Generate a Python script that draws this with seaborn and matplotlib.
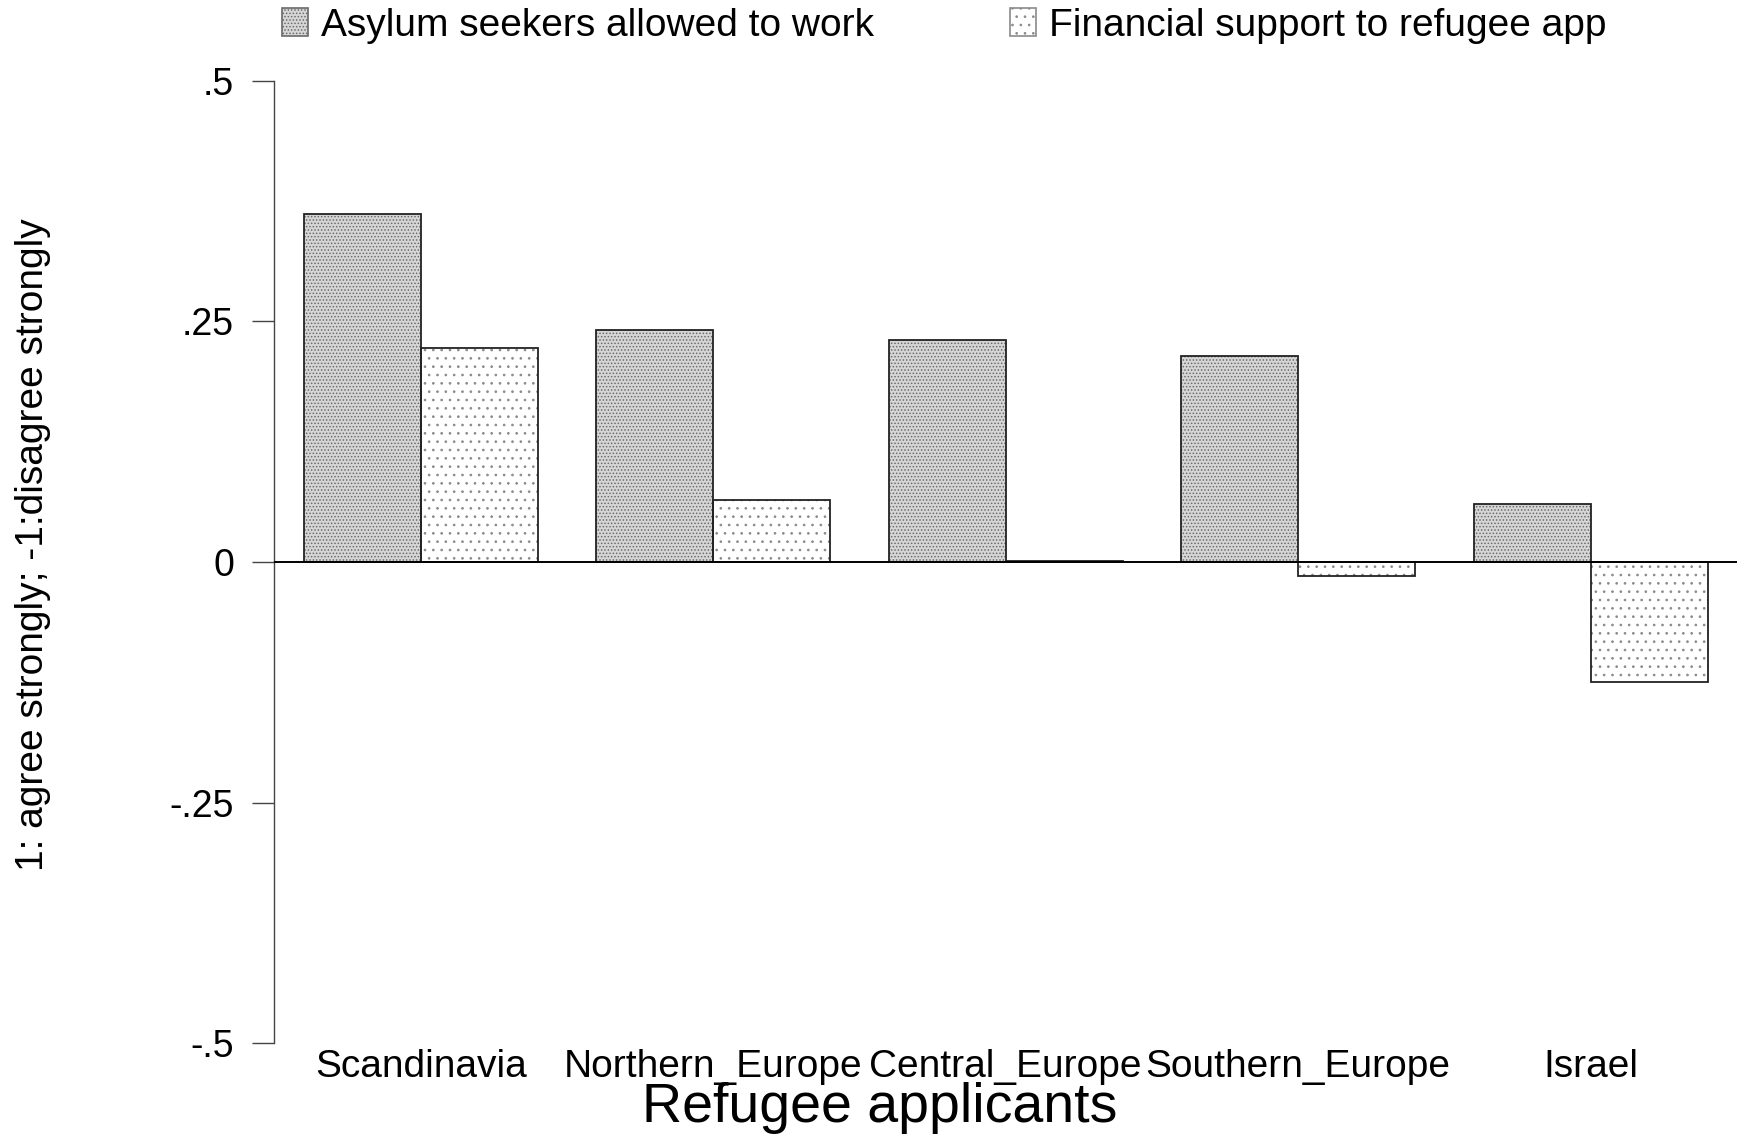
import matplotlib
matplotlib.use("Agg")
import matplotlib.pyplot as plt
from matplotlib.patches import Patch, Rectangle
import pandas as pd
import seaborn as sns

# --- Data ---
regions = ["Scandinavia", "Northern_Europe", "Central_Europe", "Southern_Europe", "Israel"]
series = ["Asylum seekers allowed to work", "Financial support to refugee app"]
asylum_work = [0.362, 0.241, 0.231, 0.214, 0.060]
financial_support = [0.222, 0.064, 0.001, -0.015, -0.125]
ytick_vals = [-0.5, -0.25, 0, 0.25, 0.5]
ytick_labels = ["-.5", "-.25", "0", ".25", ".5"]

df = pd.DataFrame({
    "region": regions * 2,
    "series": [series[0]] * len(regions) + [series[1]] * len(regions),
    "value": asylum_work + financial_support,
})

sns.set_theme(style="white")
plt.rcParams["font.family"] = ["Liberation Sans", "DejaVu Sans"]
plt.rcParams["text.color"] = "black"
plt.rcParams["axes.labelcolor"] = "black"
plt.rcParams["xtick.color"] = "black"
plt.rcParams["ytick.color"] = "black"
plt.rcParams["hatch.linewidth"] = 0.7

fig = plt.figure(figsize=(17.37, 11.40), dpi=100)
ax = fig.add_axes([0.158, 0.085, 0.842, 0.844])

sns.barplot(data=df, x="region", y="value", hue="series", order=regions,
            hue_order=series, width=0.8, palette=["white", "white"],
            legend=False, ax=ax)

# Stata-like dotted fills (hatch colour follows edgecolor, outline drawn on top)
styles = [dict(face="#d6d6d6", hatch=".....", dots="#6a6a6a"),
          dict(face="white", hatch="..", dots="#8a8a8a")]
outline = "#222222"
for cont, st in zip(ax.containers, styles):
    for bar in cont:
        bar.set_facecolor(st["face"])
        bar.set_hatch(st["hatch"])
        bar.set_edgecolor(st["dots"])
        bar.set_linewidth(0)
        ax.add_patch(Rectangle(bar.get_xy(), bar.get_width(), bar.get_height(),
                               fill=False, edgecolor=outline, linewidth=1.3, zorder=bar.get_zorder() + 0.1))

ax.axhline(0, color="black", lw=1.4, zorder=3)

ax.set_xlim(-0.5, 4.5)
ax.set_ylim(-0.5, 0.5)
ax.set_yticks(ytick_vals)
ax.set_yticklabels(ytick_labels)
ax.tick_params(axis="y", length=16, width=1, color="#444", labelsize=27, pad=13, left=True)
ax.tick_params(axis="x", length=0, labelsize=28, pad=4)

for s in ["top", "right", "bottom"]:
    ax.spines[s].set_visible(False)
ax.spines["left"].set_color("#444")
ax.spines["left"].set_linewidth(1)
ax.spines["left"].set_bounds(-0.5, 0.5)

ax.set_xlabel("Refugee applicants", fontsize=40)
ax.xaxis.set_label_coords(0.414, -0.040)
ax.set_ylabel("1: agree strongly; -1:disagree strongly", fontsize=28)
ax.yaxis.set_label_coords(-0.153, 0.518)

handles = [Patch(facecolor=st["face"], hatch=st["hatch"], edgecolor=st["dots"], linewidth=0)
           for st in styles]
leg = fig.legend(handles, series, loc="upper left", bbox_to_anchor=(0.158, 1.0),
                 ncol=2, frameon=False, fontsize=28, handlelength=0.65, handleheight=0.75,
                 handletextpad=0.35, columnspacing=3.5, borderaxespad=0.1, borderpad=0.1)
for h in leg.legend_handles:
    h.set_linewidth(1.2)

fig.savefig("out.png", dpi=100)
